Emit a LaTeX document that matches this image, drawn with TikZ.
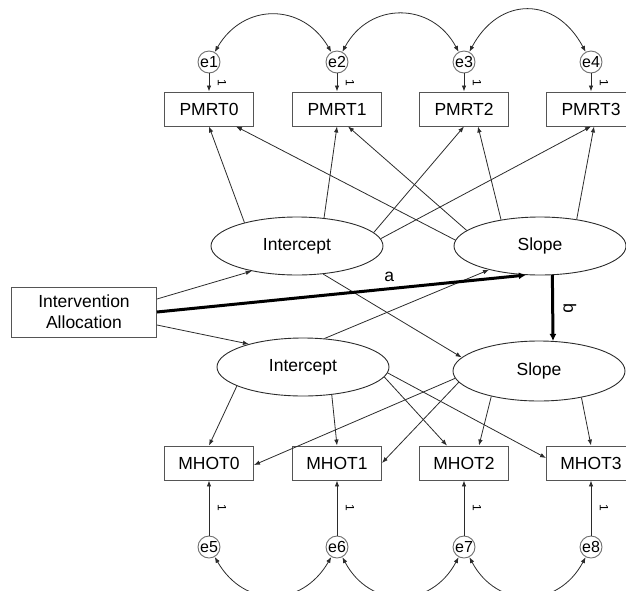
\documentclass[tikz,border=0pt]{standalone}
\usepackage{fontspec}
\setmainfont{Liberation Sans}
\usepackage{xcolor}
\usetikzlibrary{calc}
\usetikzlibrary{shapes}
\usetikzlibrary{arrows.meta}
\definecolor{linegray}{HTML}{2B2B2B}
\definecolor{boxgray}{HTML}{555555}
\definecolor{circgray}{HTML}{6E6E6E}

\begin{document}
\begin{tikzpicture}[x=1pt,y=1pt,>={Latex[length=6pt,width=4.5pt]},
	font=\fontsize{17.5}{21}\selectfont,
	obs/.style={rectangle,draw=boxgray,line width=0.9pt,minimum width=89pt,minimum height=34pt,inner sep=0pt},
	lat/.style={ellipse,draw=linegray,line width=0.9pt,minimum width=172pt,minimum height=58pt,inner sep=0pt},
	err/.style={circle,draw=circgray,line width=0.9pt,fill=white,minimum size=22pt,inner sep=0pt,font=\fontsize{16}{18}\selectfont},
	reg/.style={->,draw=linegray,line width=0.8pt},
	cov/.style={<->,draw=linegray,line width=0.8pt},
	one/.style={font=\fontsize{12}{12}\selectfont,inner sep=0pt,xshift=13pt,rotate=-90},
	effect/.style={->,draw=black,line width=3pt,>={Latex[length=7pt,width=7pt]}}]
			\useasboundingbox (0,0) rectangle (626,-590);
			\clip (0,0) rectangle (626,-590);
			%observed
			\node at (209,-109) (pmrt0) [obs] {PMRT0};
			\node at (337,-109) (pmrt1) [obs] {PMRT1};
			\node at (464,-109) (pmrt2) [obs] {PMRT2};
			\node at (591,-109) (pmrt3) [obs] {PMRT3};
			\node at (209,-463) (mhot0) [obs] {MHOT0};
			\node at (337,-463) (mhot1) [obs] {MHOT1};
			\node at (464,-463) (mhot2) [obs] {MHOT2};
			\node at (591,-463) (mhot3) [obs] {MHOT3};
			%errors
			\node at (209,-62) (e1) [err] {e1};
			\node at (337,-62) (e2) [err] {e2};
			\node at (464,-62) (e3) [err] {e3};
			\node at (591,-62) (e4) [err] {e4};
			\node at (209,-547) (e5) [err] {e5};
			\node at (337,-547) (e6) [err] {e6};
			\node at (464,-547) (e7) [err] {e7};
			\node at (591,-547) (e8) [err] {e8};
			%latent
			\node at (297,-246) (intT) [lat] {Intercept};
			\node at (540,-246) (slpT) [lat] {Slope};
			\node at (303,-367) (intB) [lat] {Intercept};
			\node at (539,-371) (slpB) [lat, minimum height=60pt] {Slope};
			%predictor
			\node at (84,-312) (alloc) [rectangle, draw=boxgray, line width=0.9pt, minimum width=145pt, minimum height=50pt, align=center] {Intervention\\Allocation};

			% error paths
			\draw [reg] (e1) -- (pmrt0) node [one, midway] (f1) {1};
			\draw [reg] (e2) -- (pmrt1) node [one, midway] (f2) {1};
			\draw [reg] (e3) -- (pmrt2) node [one, midway] (f3) {1};
			\draw [reg] (e4) -- (pmrt3) node [one, midway] (f4) {1};
			\draw [reg] (e5) -- (mhot0) node [one, midway] (f5) {1};
			\draw [reg] (e6) -- (mhot1) node [one, midway] (f6) {1};
			\draw [reg] (e7) -- (mhot2) node [one, midway] (f7) {1};
			\draw [reg] (e8) -- (mhot3) node [one, midway] (f8) {1};

			% covariances
			\draw [cov] (e1) to [out=60, in=120, looseness=1.26] (e2);
			\draw [cov] (e2) to [out=62, in=118, looseness=1.26] (e3);
			\draw [cov] (e3) to [out=62, in=118, looseness=1.4] (e4);
			\draw [cov] (e5) to [out=-60, in=-120, looseness=1.3] (e6);
			\draw [cov] (e6) to [out=-62, in=-118, looseness=1.3] (e7);
			\draw [cov] (e7) to [out=-62, in=-118, looseness=1.3] (e8);

			% loadings PMRT
			\draw [reg] (intT.156) -- (pmrt0.south);
			\draw [reg] (intT.46) -- (pmrt1.south);
			\draw [reg] (intT.10) -- (pmrt2.south);
			\draw [reg] (intT.5) -- (pmrt3.south);
			\draw [reg] (slpT.176) -- ($(pmrt0.south) + (27,0)$);
			\draw [reg] (slpT.168) -- ($(pmrt1.south) + (11,0)$);
			\draw [reg] (slpT.146) -- ($(pmrt2.south) + (14,0)$);
			\draw [reg] (slpT.36) -- ($(pmrt3.south) + (3,0)$);

			% loadings MHOT
			\draw [reg] (intB.196) -- (mhot0.north);
			\draw [reg] (intB.-44) -- (mhot1.north);
			\draw [reg] (intB.-7) -- ($(mhot2.north) + (-17,0)$);
			\draw [reg] (intB.-4) -- ($(mhot3.west) + (0,5)$);
			\draw [reg] (slpB.185) -- ($(mhot0.east) + (0,-2)$);
			\draw [reg] (slpB.188) -- (mhot1.east);
			\draw [reg] (slpB.208) -- ($(mhot2.north) + (15,0)$);
			\draw [reg] (slpB.-32) -- (mhot3.north);

			% structural
			\draw [reg] ($(alloc.east) + (0,13)$) -- (intT.209);
			\draw [reg] ($(alloc.east) + (0,-13)$) -- (intB.157);
			\draw [reg] (intT.-47) -- (slpB.170);
			\draw [reg] (intB.53) -- (slpT.205);
			\draw [effect] (alloc.east) -- (slpT.244) node [pos=0.63, above=2pt] (la) {a};
			\draw [effect] (slpT.-67) -- (slpB.65) node [midway, right=6pt, rotate=-90, anchor=south] (lb) {b};
		\end{tikzpicture}
\end{document}
